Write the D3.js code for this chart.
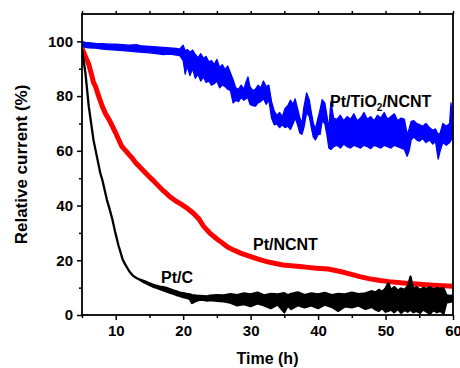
<!DOCTYPE html>
<html>
<head>
<meta charset="utf-8">
<script src="https://cdn.jsdelivr.net/npm/d3@7"></script>
<style>
  html, body { margin: 0; padding: 0; background: #fff; }
  svg { display: block; font-family: "Liberation Sans", Arial, sans-serif; font-weight: bold; }
</style>
</head>
<body>
<svg id="chart" width="460" height="368"></svg>
<script>
// ticks
const xTicks = [10, 20, 30, 40, 50, 60];
const xMinor = [5, 15, 25, 35, 45, 55];
const yTicks = [0, 20, 40, 60, 80, 100];
const yMinor = [10, 30, 50, 70, 90];

// Pt/TiO2/NCNT : [time, low, high] of the noisy trace
const tio2Band = [
  [5, 98, 100], [5.5, 97.8, 99.6], [6, 97.6, 99.5], [7, 97.5, 99.3], [8, 97.2, 99.2],
  [9, 97, 99], [10, 96.8, 99], [11, 96.6, 98.8], [12, 96.4, 98.6], [13, 96.2, 98.8],
  [14, 96, 98.3], [15, 95.8, 98.2], [16, 95.5, 98], [17, 95.2, 97.8], [18, 95.3, 97.6],
  [19, 95, 97.4], [19.5, 94.8, 97.2], [20, 93, 98.6], [20.3, 88, 96.5], [20.6, 91, 97],
  [21, 87.5, 96], [21.4, 90, 96.8], [21.8, 86.5, 95.2], [22.2, 88, 94], [22.6, 85.5, 95.5],
  [23, 87, 93.8], [23.4, 85, 94.5], [23.8, 85.5, 92.5], [24.2, 84, 93], [24.6, 84.5, 91.5],
  [25, 85.5, 93.4], [25.4, 83, 90.5], [25.8, 84, 91.5], [26.2, 83.5, 89.7], [26.6, 82.5, 91],
  [27, 82, 88.5], [27.4, 77.5, 86], [27.8, 78.5, 83], [28.2, 78, 82.5], [28.6, 79.5, 84],
  [29, 78.5, 82.5], [29.3, 79, 85], [29.6, 79.5, 87], [29.9, 77, 83.5], [30.3, 76.5, 82],
  [30.7, 76.3, 82.5], [31.1, 77.5, 84], [31.5, 78, 83], [31.9, 79, 85.5], [32.3, 77, 83.5],
  [32.7, 78.5, 84], [33.1, 72, 78], [33.5, 69.5, 74.5], [33.9, 69.8, 73], [34.3, 68.5, 74],
  [34.7, 69.5, 72.5], [35.1, 68.5, 75.5], [35.5, 69, 76.5], [35.9, 67.8, 78.5], [36.3, 70, 77],
  [36.6, 72, 79], [36.9, 70, 76], [37.3, 66.5, 72], [37.6, 66, 70], [37.9, 68.5, 76],
  [38.3, 74, 81.2], [38.7, 72.5, 78.5], [39, 68.5, 74], [39.3, 65, 70], [39.6, 64, 68],
  [40, 66, 72], [40.3, 66, 75], [40.6, 71, 78.7], [41, 70, 77.5], [41.3, 66, 73],
  [41.6, 61, 68], [41.9, 60.5, 78], [42.3, 61.5, 72], [42.8, 62, 71.5], [43.3, 61, 73],
  [43.8, 62.5, 71], [44.3, 61.5, 72.5], [44.8, 61, 71.5], [45.3, 62, 73.5], [45.8, 61.5, 71],
  [46.3, 61, 72], [46.8, 62, 74], [47.3, 61.5, 71.5], [47.8, 60.8, 72.5], [48.3, 62, 71],
  [48.8, 61.5, 73], [49.3, 61, 72], [49.8, 62, 74], [50.3, 61.5, 71.5], [50.8, 61, 72.5],
  [51.3, 62, 73.5], [51.8, 61.5, 71], [52.3, 61, 72], [52.8, 60.5, 71.5], [53.2, 58, 66],
  [53.5, 60, 68], [53.8, 64, 70.8], [54.2, 65, 71], [54.6, 64, 70], [55, 63.5, 69.6],
  [55.5, 64.5, 69], [56, 63, 70], [56.5, 64, 68.5], [57, 62.5, 67.5], [57.4, 63.5, 68],
  [57.8, 57, 66], [58.1, 60, 66.5], [58.5, 63, 70], [59, 62, 69], [59.5, 63, 70],
  [59.7, 64, 77.5], [60, 64, 70]
];

// Pt/NCNT : [time, value]
const ncntLine = [
  [5, 97.5], [5.5, 94.5], [6, 91.6], [6.4, 88], [6.7, 85], [7, 83.5], [7.4, 80.5], [8, 76.3],
  [8.5, 73.5], [9, 71.5], [9.5, 69], [10, 66.5], [10.5, 63.8], [10.9, 61.6], [11.5, 60],
  [12, 58.5], [12.4, 57.5], [13, 55.5], [13.5, 54.3], [14, 53], [14.9, 50.7], [15.5, 49.3],
  [16, 48], [17, 45.5], [17.4, 44.7], [18, 43.3], [19, 41.5], [19.8, 40.3], [20.6, 39],
  [21.5, 37.2], [22.3, 35.2], [23, 32.5], [24, 29.8], [25, 27.8], [25.5, 26.9], [26.5, 25],
  [27.4, 23.8], [28.5, 22.6], [29.9, 21.4], [31, 20.5], [32.4, 19.5], [33.5, 18.9],
  [34.8, 18.3], [36, 18], [37.3, 17.7], [38.5, 17.4], [39.8, 17.1], [41.5, 16.8],
  [43.3, 15.9], [44.5, 15.1], [46.2, 14], [47.5, 13.3], [49.2, 12.6], [50.5, 12.2],
  [52.2, 11.8], [53.5, 11.5], [55.1, 11.2], [57, 10.9], [58.5, 10.7], [60, 10.5]
];

// Pt/C : [time, low, high]
const pcBand = [
  [5, 97, 97], [5.5, 88.6, 88.6], [6, 76.3, 76.3], [6.7, 64, 64], [7.7, 52, 52],
  [8, 49.5, 49.5], [8.7, 42, 42], [9, 39.5, 39.5], [9.5, 35, 35], [9.9, 30.5, 30.5],
  [10.4, 25.5, 25.5], [11, 20.5, 20.5], [11.4, 18.5, 18.5], [12, 16, 16], [12.5, 14.5, 14.5],
  [13, 13.6, 13.6], [13.5, 13, 13], [14, 12.2, 12.6], [14.5, 11.6, 12.1], [15, 11, 11.6],
  [15.5, 10.4, 11.1], [16, 10, 10.7], [16.5, 9.5, 10.4], [17, 9.1, 10.2], [17.5, 8.6, 9.9],
  [18, 8.2, 9.5], [18.5, 7.8, 9], [19, 7.3, 8.6], [19.5, 7, 8.2], [20, 6.5, 8],
  [20.5, 6.3, 7.7], [21, 5.8, 7.5], [21.3, 4.4, 7.3], [22, 5.2, 7.1], [22.5, 5.6, 7],
  [23, 5.5, 6.9], [23.5, 5.3, 6.8], [24, 5.4, 7.1], [25, 5.2, 7.3], [26, 5, 7.2],
  [27, 4.5, 7.6], [28, 3.5, 7.3], [29, 4, 7.9], [30, 3.2, 7.5], [31, 4.2, 8.2], [32, 3.5, 7.2],
  [33, 2.5, 7.7], [34, 3.8, 7.5], [35, 1, 8], [35.5, 3.5, 7.2], [36, 2.2, 7.7], [37, 3.6, 8.3],
  [38, 2.8, 7.3], [39, 3.5, 7.9], [40, 2.5, 7.5], [41, 3.8, 8.1], [42, 3, 7.3], [43, 1.5, 7.7],
  [44, 3.2, 7.5], [45, 2.8, 8.2], [46, 3.5, 7.6], [47, 2.2, 7.9], [48, 3, 8.7], [48.5, 2, 8.2],
  [49, 1.5, 9.2], [49.5, 2.5, 8.5], [50, 1.2, 9.7], [50.4, 1.5, 11.7], [50.8, 2, 9.2],
  [51.3, 1, 10.2], [51.8, 2.2, 8.9], [52.3, 0.8, 9.7], [52.8, 1.8, 9.2], [53.3, 1.2, 10.5],
  [53.7, 2, 14], [54.1, 1, 9.5], [54.6, 1.5, 10.2], [55.1, 0.8, 9.2], [55.6, 2, 9.9],
  [56.1, 1.2, 9.5], [56.6, 0.5, 10.2], [57.1, 1.8, 9.3], [57.6, 1, 9.9], [58.1, 1.5, 9.5],
  [58.6, 0.5, 9.7], [59, 4.5, 7.3], [59.5, 4.8, 7], [60, 5, 7.1]
];

const svg = d3.select('#chart');
const mLeft = 82, mRight = 453, mTop = 14, mBottom = 315;

const x = d3.scaleLinear().domain([5, 60]).range([mLeft, mRight]);
const y = d3.scaleLinear().domain([0, 110]).range([mBottom, mTop]);

svg.append('clipPath').attr('id', 'plot')
  .append('rect')
  .attr('x', mLeft).attr('y', mTop)
  .attr('width', mRight - mLeft).attr('height', mBottom - mTop);

const plot = svg.append('g').attr('clip-path', 'url(#plot)');

const band = d3.area()
  .x(d => x(d[0]))
  .y0(d => y(d[1]))
  .y1(d => y(d[2]));

plot.append('path')
  .datum(tio2Band)
  .attr('d', band)
  .attr('fill', '#0000ff')
  .attr('stroke', '#0000ff')
  .attr('stroke-width', 1.3)
  .attr('stroke-linejoin', 'round');

plot.append('path')
  .datum(ncntLine)
  .attr('d', d3.line().x(d => x(d[0])).y(d => y(d[1])))
  .attr('fill', 'none')
  .attr('stroke', '#ff0000')
  .attr('stroke-width', 5);

plot.append('path')
  .datum(pcBand)
  .attr('d', band)
  .attr('fill', '#000')
  .attr('stroke', '#000')
  .attr('stroke-width', 2.3)
  .attr('stroke-linejoin', 'round');

// axes
svg.append('g')
  .attr('transform', `translate(0,${mBottom})`)
  .call(d3.axisBottom(x).tickValues(xTicks).tickSize(5).tickPadding(5));
svg.append('g')
  .attr('transform', `translate(0,${mBottom})`)
  .call(d3.axisBottom(x).tickValues(xMinor).tickSize(3).tickFormat(''));
svg.append('g')
  .attr('transform', `translate(0,${mTop})`)
  .call(d3.axisTop(x).tickValues(xTicks.concat(xMinor)).tickSize(3).tickFormat(''));

svg.append('g')
  .attr('transform', `translate(${mLeft},0)`)
  .call(d3.axisLeft(y).tickValues(yTicks).tickSize(5).tickPadding(4));
svg.append('g')
  .attr('transform', `translate(${mLeft},0)`)
  .call(d3.axisLeft(y).tickValues(yMinor).tickSize(3).tickFormat(''));

svg.selectAll('.domain').remove();
svg.selectAll('.tick line').attr('stroke', '#000').attr('stroke-width', 1.5);
svg.selectAll('.tick text')
  .attr('font-family', '"Liberation Sans", Arial, sans-serif')
  .attr('font-weight', 'bold')
  .attr('font-size', 15)
  .attr('fill', '#000');

svg.append('rect')
  .attr('x', mLeft).attr('y', mTop)
  .attr('width', mRight - mLeft).attr('height', mBottom - mTop)
  .attr('fill', 'none')
  .attr('stroke', '#000')
  .attr('stroke-width', 1.8);

// titles
svg.append('text')
  .attr('x', (mLeft + mRight) / 2).attr('y', 364)
  .attr('text-anchor', 'middle')
  .attr('font-size', 16)
  .text('Time (h)');

svg.append('text')
  .attr('transform', `translate(27,${(mTop + mBottom) / 2}) rotate(-90)`)
  .attr('text-anchor', 'middle')
  .attr('font-size', 17)
  .text('Relative current (%)');

// series labels
const tio2Label = svg.append('text')
  .attr('x', 330).attr('y', 106.5)
  .attr('font-size', 16);
tio2Label.append('tspan').text('Pt/TiO');
tio2Label.append('tspan').attr('font-size', 10).attr('dy', 4).text('2');
tio2Label.append('tspan').attr('dy', -4).text('/NCNT');

svg.append('text')
  .attr('x', 253).attr('y', 250)
  .attr('font-size', 16)
  .text('Pt/NCNT');

svg.append('text')
  .attr('x', 161).attr('y', 282.5)
  .attr('font-size', 16)
  .text('Pt/C');
</script>
</body>
</html>
